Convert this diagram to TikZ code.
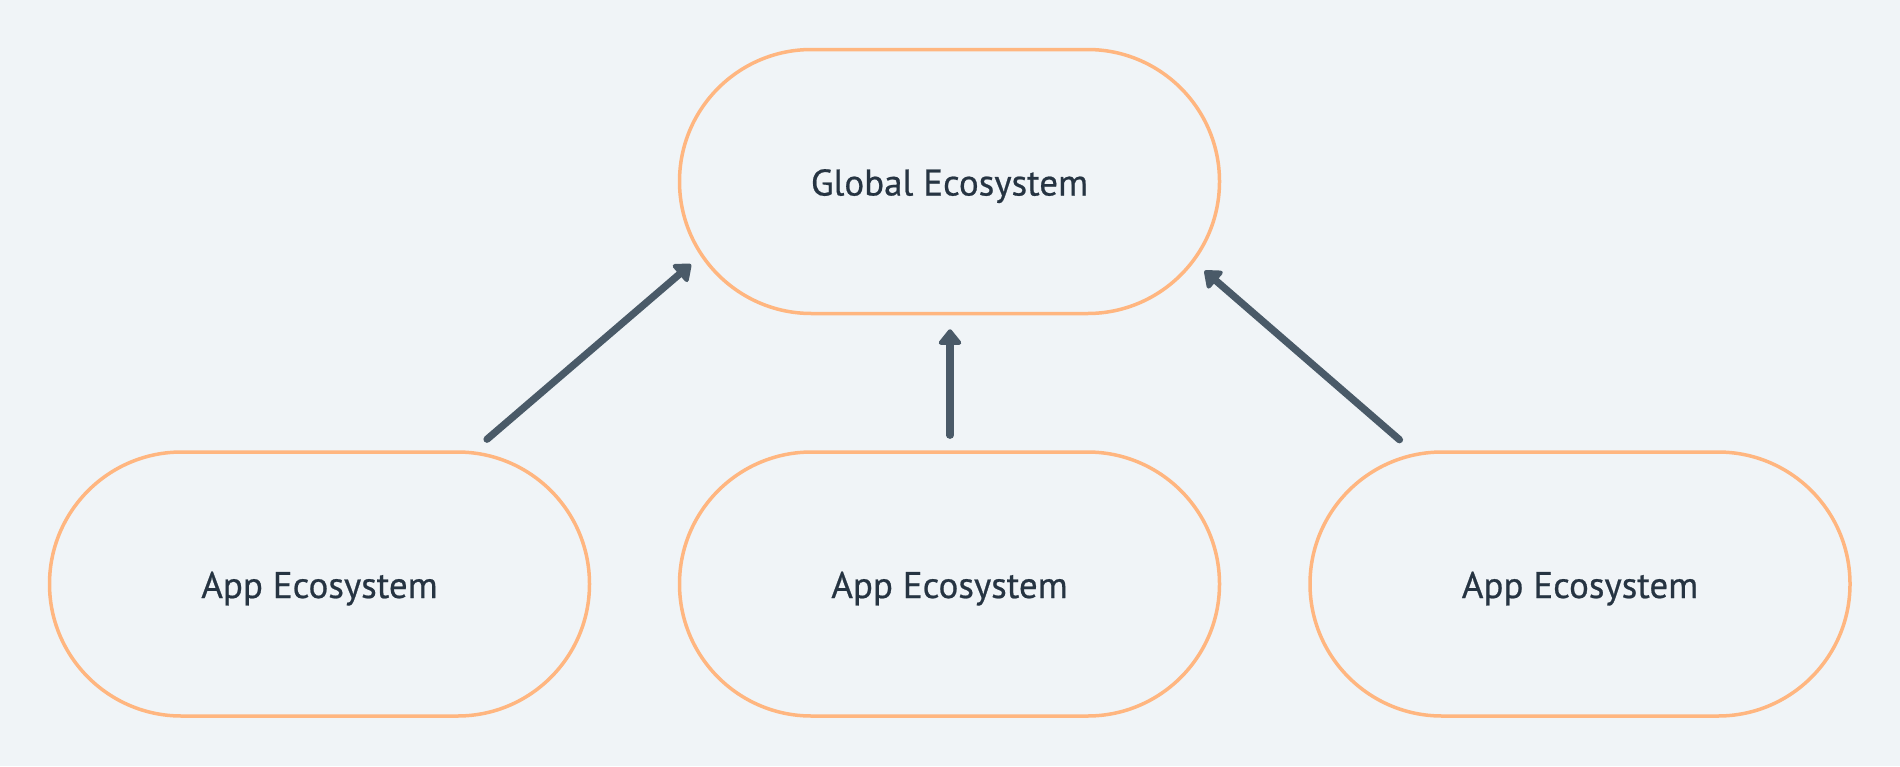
\documentclass[tikz,border=0pt]{standalone}
\usepackage{fontspec}
\setmainfont{PT Sans}
\newfontfamily\ecofont[FakeBold=0.6]{PT Sans}
\usetikzlibrary{arrows.meta}
\definecolor{bgc}{HTML}{F0F4F7}
\definecolor{ornc}{HTML}{FFB680}
\definecolor{arrc}{HTML}{4A5A68}
\definecolor{txtc}{HTML}{263442}
\begin{document}
\begin{tikzpicture}[x=0.5pt,y=-0.5pt,
  eco/.style={draw=ornc, line width=1.75pt, rounded corners=66pt,
    minimum width=270pt, minimum height=132pt, inner sep=0pt,
    text=txtc, font=\ecofont\fontsize{18.5pt}{21pt}\selectfont,
    text height=14pt, text depth=0pt},
  arr/.style={draw=arrc, line width=3.6pt, line cap=round,
    -{Triangle[length=8.5pt,width=13pt,round]}}]
\fill[bgc] (0,0) rectangle (1900,766);
\useasboundingbox (0,0) rectangle (1900,766);
\node[eco] (g) at (949.5,181.5) {Global Ecosystem};
\node[eco] (a1) at (319.5,584) {App Ecosystem};
\node[eco] (a2) at (949.5,584) {App Ecosystem};
\node[eco] (a3) at (1580,584) {App Ecosystem};
\draw[arr] ([xshift=83.75pt,yshift=5.5pt]a1.north) -- ([xshift=-129.25pt,yshift=25.5pt]g.south);
\draw[arr] ([xshift=0.25pt,yshift=7.5pt]a2.north) -- ([xshift=0.25pt,yshift=-7pt]g.south);
\draw[arr] ([xshift=-90.25pt,yshift=5.25pt]a3.north) -- ([xshift=127.5pt,yshift=22.25pt]g.south);
\end{tikzpicture}
\end{document}
